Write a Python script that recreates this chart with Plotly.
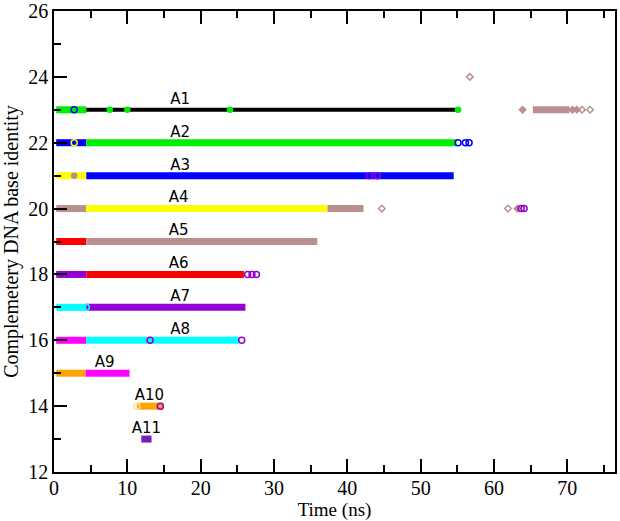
import plotly.graph_objects as go

# ---- data ----
rows = [23, 22, 21, 20, 19, 18, 17, 16, 15, 14, 13]
row_labels = ["A1", "A2", "A3", "A4", "A5", "A6", "A7", "A8", "A9", "A10", "A11"]
label_x = [17.2, 17.2, 17.2, 17.0, 17.0, 17.0, 17.2, 17.2, 6.9, 13.0, 12.6]
label_dy = 0.3

# segments (continuous runs of contacts)
seg_row = [23, 23, 22, 22, 21, 21, 20, 20, 20, 19, 19, 18, 18, 17, 17, 16, 16, 15, 15, 14, 13, 23]
seg_start = [0.3, 4.4, 0.3, 4.4, 0.3, 4.4, 0.3, 4.4, 37.3, 0.3, 4.4, 0.3, 4.4, 0.3, 4.4, 0.3, 4.4, 0.3, 4.3, 11.3, 11.9, 65.3]
seg_end = [4.4, 54.8, 4.4, 54.9, 4.4, 54.5, 4.4, 37.3, 42.2, 4.4, 35.9, 4.4, 25.9, 4.4, 26.1, 4.4, 25.2, 4.3, 10.3, 14.9, 13.3, 70.3]
seg_color = ["#00ee00", "#000000", "#0000ff", "#00ee00", "#ffff00", "#0000ff",
             "#bc8f8f", "#ffff00", "#bc8f8f", "#ff0000", "#bc8f8f", "#9400d3",
             "#ff0000", "#00ffff", "#9400d3", "#ff00ff", "#00ffff", "#ffa500",
             "#ff00ff", "#ffa500", "#7221bc", "#bc8f8f"]

# isolated contacts (single frames)
mk_row = [23, 23, 23, 23, 23, 23, 23, 23, 23, 23, 24,
          22, 22, 22, 22, 21, 21, 21,
          20, 20, 20, 20, 20, 18, 18, 18, 17, 16, 16, 14, 14]
mk_x = [2.75, 7.6, 10.0, 24.0, 55.1, 63.9, 70.7, 71.3, 72.0, 73.1, 56.7,
        2.75, 55.1, 56.1, 56.6, 2.75, 43.0, 44.1,
        44.7, 61.9, 63.2, 63.7, 64.1, 26.4, 27.0, 27.6, 4.4, 13.1, 25.6, 11.3, 14.5]
mk_color = ["#0000ff", "#00ee00", "#00ee00", "#00ee00", "#00ee00", "#bc8f8f", "#bc8f8f", "#bc8f8f", "#bc8f8f", "#bc8f8f", "#bc8f8f",
            "#ffff00", "#0000ff", "#0000ff", "#0000ff", "#bc8f8f", "#9400d3", "#9400d3",
            "#bc8f8f", "#bc8f8f", "#bc8f8f", "#9400d3", "#9400d3", "#9400d3", "#9400d3", "#9400d3", "#00ffff", "#9400d3", "#9400d3", "#ffe4a0", "#9400d3"]
mk_symbol = ["circle-open", "circle", "circle", "circle", "circle", "diamond", "diamond", "diamond", "diamond-open", "diamond-open", "diamond-open",
             "circle-open", "circle-open", "circle-open", "circle-open", "circle", "circle-open", "circle-open",
             "diamond-open", "diamond-open", "diamond", "circle-open", "circle-open", "circle-open", "circle-open", "circle-open", "circle-open", "circle-open", "circle-open", "circle-open", "circle-open"]

x_ticks = [0, 10, 20, 30, 40, 50, 60, 70]
y_ticks = [12, 14, 16, 18, 20, 22, 24, 26]

fig = go.Figure()

for r, s, e, c in zip(seg_row, seg_start, seg_end, seg_color):
    w = 4 if c == "#000000" else 7
    fig.add_trace(go.Scatter(x=[s, e], y=[r, r], mode="lines",
                             line=dict(color=c, width=w), showlegend=False,
                             hoverinfo="skip"))

for r, x, c, sym in zip(mk_row, mk_x, mk_color, mk_symbol):
    small = sym.startswith("diamond") or sym == "circle"
    fig.add_trace(go.Scatter(x=[x], y=[r], mode="markers",
                             marker=dict(color=c, symbol=sym, size=5 if small else 6,
                                         line=dict(color=c, width=1.5)),
                             showlegend=False, hoverinfo="skip"))

fig.add_trace(go.Scatter(x=label_x, y=[r + label_dy for r in rows], mode="text",
                         text=row_labels, textposition="middle center",
                         textfont=dict(family="DejaVu Sans", size=15, color="black"),
                         showlegend=False, hoverinfo="skip"))

axis_common = dict(showgrid=False, zeroline=False, showline=True, linecolor="black",
                   linewidth=1.5, ticks="inside", tickcolor="black", tickwidth=1.5,
                   ticklen=13,
                   tickfont=dict(family="Liberation Serif", size=20, color="black"))

fig.update_xaxes(range=[0, 76.5], tickvals=x_ticks, mirror="ticks", automargin=True,
                 ticklabelstandoff=-3,
                 minor=dict(dtick=5, tick0=0, ticks="inside", ticklen=7, tickwidth=1.5, tickcolor="black"),
                 title=dict(text="Time (ns)", standoff=0,
                            font=dict(family="Liberation Serif", size=19, color="black")),
                 **axis_common)
fig.update_yaxes(range=[12, 26], tickvals=y_ticks, mirror=True, automargin=False,
                 minor=dict(dtick=1, tick0=12, ticks="inside", ticklen=7, tickwidth=1.5, tickcolor="black"),
                 title=dict(text="Complemetery DNA base identity", font=dict(family="Liberation Serif", size=20, color="black")),
                 **axis_common)

fig.update_layout(width=620, height=521, margin=dict(l=54, r=5, t=11, b=49),
                  plot_bgcolor="white", paper_bgcolor="white")

fig.write_html("out.html", config={"displayModeBar": False},
               post_script="document.body.style.margin='0px';document.body.style.overflow='hidden';")
